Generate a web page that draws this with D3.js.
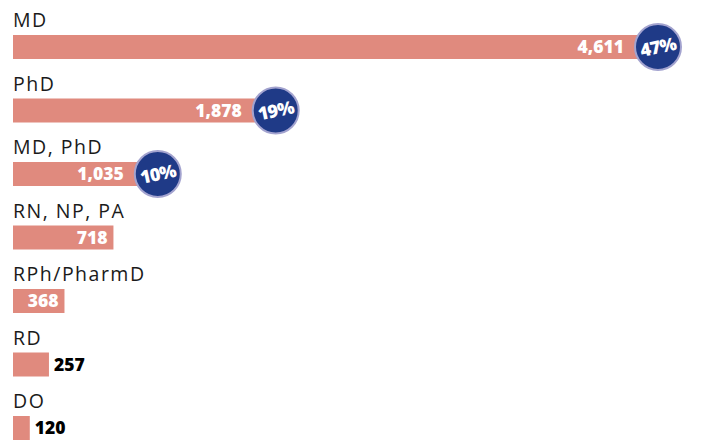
<!DOCTYPE html>
<html>
<head>
<meta charset="utf-8">
<script src="https://cdn.jsdelivr.net/npm/d3@7"></script>
<style>
  html, body { margin: 0; padding: 0; background: #ffffff; }
  svg { display: block; }
</style>
</head>
<body>
<svg id="chart" width="711" height="441"></svg>
<script>
const categories = ["MD", "PhD", "MD, PhD", "RN, NP, PA", "RPh/PharmD", "RD", "DO"];
const counts = [4611, 1878, 1035, 718, 368, 257, 120];
const shares = ["47%", "19%", "10%", null, null, null, null];

const svg = d3.select("#chart");
const left = 13;
const barH = 24;

const x = d3.scaleLinear().domain([0, 4611]).range([0, 645]);
const y = d3.scaleBand().domain(categories).range([35, 35 + 63.5 * 7]).paddingInner(0).paddingOuter(0);

const rows = categories.map((c, i) => ({ cat: c, v: counts[i], pct: shares[i] }));
const fmt = d3.format(",");

const g = svg.append("g").attr("transform", `translate(${left},0)`);

const row = g.selectAll("g.row").data(rows).join("g").attr("class", "row");

row.append("text")
  .attr("x", 0)
  .attr("y", d => y(d.cat) - 8)
  .attr("font-family", "'Open Sans', Lato, sans-serif")
  .attr("font-size", 19.5)
  .attr("letter-spacing", "1.5")
  .attr("fill", "#1a1a1a")
  .text(d => d.cat);

row.append("rect")
  .attr("x", 0)
  .attr("y", d => y(d.cat))
  .attr("width", d => x(d.v))
  .attr("height", barH)
  .attr("fill", "#e08a7e");

const r = 23;
const outside = d => !d.pct && x(d.v) < 45;

row.append("text")
  .attr("x", d => d.pct ? x(d.v) - r - 11 : (outside(d) ? x(d.v) + 5 : x(d.v) - 6))
  .attr("y", d => y(d.cat) + barH / 2)
  .attr("dy", "0.36em")
  .attr("text-anchor", d => outside(d) ? "start" : "end")
  .attr("font-family", "'Open Sans', Lato, sans-serif")
  .attr("font-weight", 800)
  .attr("font-size", 17.5)
  .attr("fill", d => outside(d) ? "#000000" : "#ffffff")
  .text(d => fmt(d.v));

const badge = row.filter(d => d.pct)
  .append("g")
  .attr("transform", d => `translate(${x(d.v)},${y(d.cat) + barH / 2})`);

badge.append("circle")
  .attr("r", r)
  .attr("fill", "#1f3a87")
  .attr("stroke", "#a3a3cf")
  .attr("stroke-width", 2);

badge.append("text")
  .attr("transform", "rotate(-12)")
  .attr("text-anchor", "middle")
  .attr("dy", "0.36em")
  .attr("font-family", "'Open Sans', Lato, sans-serif")
  .attr("font-weight", 800)
  .attr("font-size", 18)
  .attr("letter-spacing", "-0.8")
  .attr("fill", "#ffffff")
  .text(d => d.pct);
</script>
</body>
</html>
